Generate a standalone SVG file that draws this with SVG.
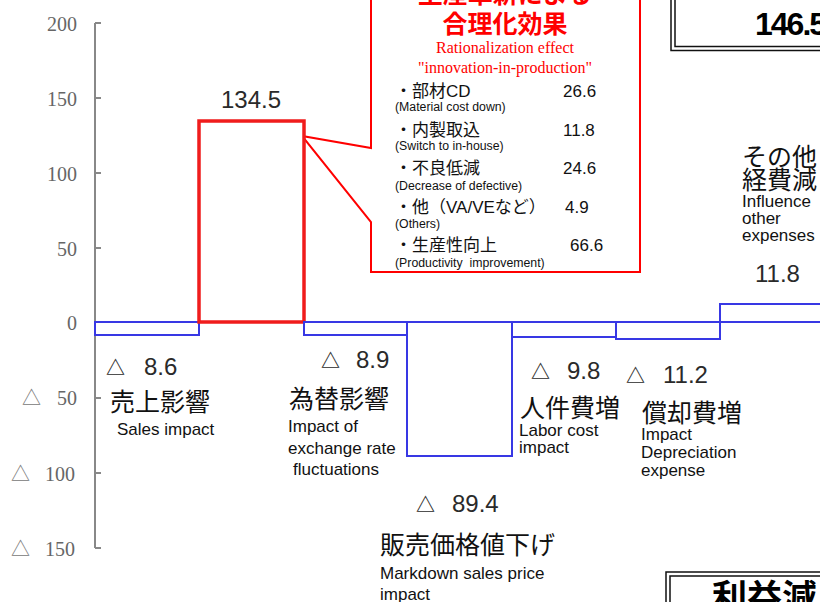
<svg xmlns="http://www.w3.org/2000/svg" width="820" height="602" viewBox="0 0 820 602">
<style>
.ax{font-family:"Liberation Serif","Noto Serif CJK JP",serif;font-size:20px;fill:#666}
.axt{font-family:"Noto Sans CJK JP",sans-serif;font-size:19px;fill:#777}
.val{font-family:"Liberation Sans","Noto Sans CJK JP",sans-serif;font-size:24px;fill:#2a2a2a}
.tri{font-family:"Noto Sans CJK JP",sans-serif;font-size:19px;font-weight:bold}
.jp{font-family:"Noto Sans CJK JP",sans-serif;font-size:25px;fill:#111}
.en{font-family:"Liberation Sans","Noto Sans CJK JP",sans-serif;font-size:17px;fill:#111}
.bar{fill:#fff;stroke:#3838e4;stroke-width:2}
.rt{font-family:"Noto Sans CJK JP",sans-serif;font-size:25px;font-weight:bold;fill:#ff0000}
.rs{font-family:"Liberation Serif",serif;font-size:16px;fill:#ff0000}
.it{font-family:"Liberation Sans","Noto Sans CJK JP",sans-serif;font-size:17px;fill:#111}
.sm{font-family:"Liberation Sans","Noto Sans CJK JP",sans-serif;font-size:12.3px;fill:#111;white-space:pre}
.big{font-family:"Liberation Sans","Noto Sans CJK JP",sans-serif;font-weight:bold;fill:#000}
</style>
<rect width="820" height="602" fill="#fff"/>

<g id="axis">
<path d="M95,23 V548 M95,23 H101 M95,98 H101 M95,173 H101 M95,248 H101 M95,322 H101 M95,398 H101 M95,473 H101 M95,548 H101" fill="none" stroke="#888" stroke-width="2"/>
<text class="ax" x="77" y="31" text-anchor="end">200</text>
<text class="ax" x="77" y="106" text-anchor="end">150</text>
<text class="ax" x="77" y="181" text-anchor="end">100</text>
<text class="ax" x="77" y="256" text-anchor="end">50</text>
<text class="ax" x="77" y="330" text-anchor="end">0</text>
<text class="ax" y="405"><tspan class="axt" x="22">△</tspan><tspan x="57">50</tspan></text>
<text class="ax" y="481"><tspan class="axt" x="11">△</tspan><tspan x="45">100</tspan></text>
<text class="ax" y="556"><tspan class="axt" x="11">△</tspan><tspan x="45">150</tspan></text>
</g>

<g id="connectors">
<path d="M371,-5 V148 L302,136 L371,222 V272 H640 V-5" fill="#fff" stroke="#ff0000" stroke-width="2"/>
</g>

<g id="sales">
<rect class="bar" x="95" y="322" width="104" height="13"/>
<text class="val" y="375"><tspan class="tri" x="106">△</tspan><tspan x="144">8.6</tspan></text>
<text class="jp" x="110" y="411">売上影響</text>
<text class="en" x="117" y="435">Sales impact</text>
</g>

<g id="rationalization">
<rect x="199" y="121" width="105" height="201" fill="#fff" stroke="#f01c1c" stroke-width="3.5"/>
<text class="val" x="251" y="108" text-anchor="middle">134.5</text>
</g>

<g id="exchange">
<rect class="bar" x="304" y="322" width="103" height="13"/>
<text class="val" y="368"><tspan class="tri" x="321">△</tspan><tspan x="356">8.9</tspan></text>
<text class="jp" x="289" y="408">為替影響</text>
<text class="en" x="288" y="432">Impact of</text>
<text class="en" x="288" y="454">exchange rate</text>
<text class="en" x="293" y="475">fluctuations</text>
</g>

<g id="markdown">
<rect class="bar" x="407" y="322" width="105" height="134"/>
<text class="val" y="512"><tspan class="tri" x="416">△</tspan><tspan x="452">89.4</tspan></text>
<text class="jp" x="380" y="554">販売価格値下げ</text>
<text class="en" x="380" y="579">Markdown sales price</text>
<text class="en" x="380" y="600">impact</text>
</g>

<g id="labor">
<rect class="bar" x="512" y="322" width="104" height="15"/>
<text class="val" y="379"><tspan class="tri" x="531">△</tspan><tspan x="567">9.8</tspan></text>
<text class="jp" x="520" y="417">人件費増</text>
<text class="en" x="519" y="436">Labor cost</text>
<text class="en" x="519" y="453">impact</text>
</g>

<g id="depreciation">
<rect class="bar" x="616" y="322" width="104" height="17"/>
<text class="val" y="383"><tspan class="tri" x="626">△</tspan><tspan x="663">11.2</tspan></text>
<text class="jp" x="642" y="422">償却費増</text>
<text class="en" x="641" y="440">Impact</text>
<text class="en" x="641" y="458">Depreciation</text>
<text class="en" x="641" y="476">expense</text>
</g>

<g id="other">
<rect class="bar" x="720" y="304" width="110" height="18"/>
<text class="val" x="755" y="282">11.8</text>
<text class="jp" x="742" y="166">その他</text>
<text class="jp" x="742" y="189">経費減</text>
<text class="en" x="742" y="207">Influence</text>
<text class="en" x="742" y="224">other</text>
<text class="en" x="742" y="241">expenses</text>
</g>

<g id="callout">
<text class="rt" x="505" y="3" text-anchor="middle">生産革新による</text>
<text class="rt" x="505" y="33" text-anchor="middle">合理化効果</text>
<text class="rs" x="505" y="53" text-anchor="middle">Rationalization effect</text>
<text class="rs" x="505" y="73" text-anchor="middle">"innovation-in-production"</text>
<text class="it" x="395" y="97">・部材CD</text>
<text class="it" x="563" y="97">26.6</text>
<text class="sm" x="395" y="111">(Material cost down)</text>
<text class="it" x="395" y="136">・内製取込</text>
<text class="it" x="563" y="136">11.8</text>
<text class="sm" x="395" y="150">(Switch to in-house)</text>
<text class="it" x="395" y="174">・不良低減</text>
<text class="it" x="563" y="174">24.6</text>
<text class="sm" x="395" y="190">(Decrease of defective)</text>
<text class="it" x="395" y="213">・他（VA/VEなど）</text>
<text class="it" x="565" y="213">4.9</text>
<text class="sm" x="395" y="228">(Others)</text>
<text class="it" x="395" y="251">・生産性向上</text>
<text class="it" x="570" y="251">66.6</text>
<text class="sm" x="395" y="267">(Productivity  improvement)</text>
</g>

<g id="total">
<rect x="671" y="-10" width="160" height="60.5" fill="#fff" stroke="#111" stroke-width="1.5"/>
<rect x="675" y="-10" width="160" height="56.5" fill="none" stroke="#111" stroke-width="1.5"/>
<text class="big" x="755" y="35" font-size="32" letter-spacing="-2">146.5</text>
</g>

<g id="decrease">
<rect x="666" y="572" width="170" height="50" fill="#fff" stroke="#111" stroke-width="1.5"/>
<rect x="670" y="576" width="170" height="50" fill="none" stroke="#111" stroke-width="1.5"/>
<text class="big" x="712" y="610" font-size="35" font-family="Noto Sans CJK JP, sans-serif">利益減</text>
</g>
</svg>
